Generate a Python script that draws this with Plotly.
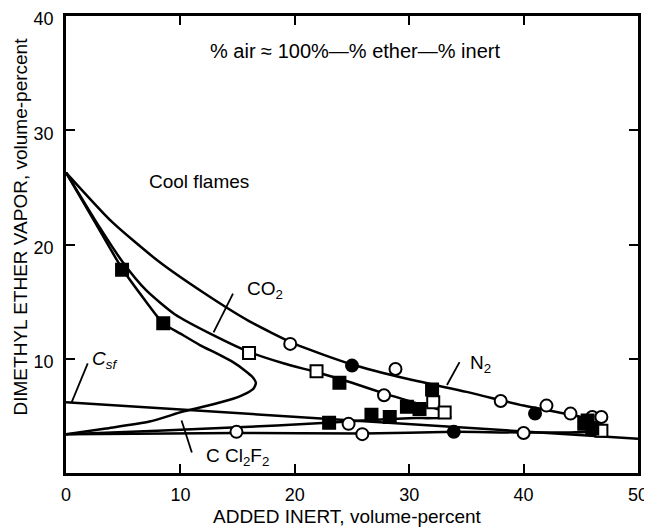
import plotly.graph_objects as go

# ---------------- data ----------------
# N2 flammability envelope (upper branch then lower branch)
n2_x = [0, 4, 8, 12, 16, 20, 25, 30, 35, 40, 45, 46.8, 46.2, 40, 34, 26, 15, 0]
n2_y = [26.3, 22.0, 18.6, 15.8, 13.3, 11.3, 9.5, 8.2, 7.1, 5.9, 4.9, 4.3, 3.7, 3.55, 3.6, 3.45, 3.5, 3.4]

# CO2 flammability envelope
co2_x = [0, 2.5, 5, 7, 9.5, 13, 16, 19, 22, 25, 28, 31, 33.3, 33.6, 30, 26, 22, 15, 8, 0]
co2_y = [26.3, 22.2, 18.4, 16.0, 13.9, 12.0, 10.6, 9.6, 8.8, 7.9, 6.9, 6.0, 5.3, 4.9, 4.8, 4.6, 4.35, 4.0, 3.7, 3.4]

# CCl2F2 flammability envelope
ccl_x = [0, 2.5, 4.9, 7, 8.5, 10, 11.7, 13.3, 14.6, 15.6, 16.3, 16.6, 16.4, 15.8, 14.6, 13.2, 10.3, 7.3, 3.5, 0]
ccl_y = [26.3, 22.0, 17.9, 15.0, 13.1, 12.2, 11.2, 10.4, 9.7, 9.0, 8.4, 7.9, 7.4, 7.0, 6.5, 6.1, 5.4, 4.5, 3.9, 3.4]

# stoichiometric line Csf
csf_x = [0, 50]
csf_y = [6.2, 3.0]

# experimental points
open_circle_x = [19.6, 28.8, 38.0, 42.0, 44.1, 46.0, 46.8, 27.8, 14.9, 25.9, 40.0, 24.7]
open_circle_y = [11.3, 9.1, 6.3, 5.9, 5.2, 4.9, 4.9, 6.8, 3.6, 3.4, 3.5, 4.3]
filled_circle_x = [25.0, 41.0, 33.9]
filled_circle_y = [9.4, 5.2, 3.6]
open_square_x = [16.0, 21.9, 32.1, 33.1, 46.8]
open_square_y = [10.5, 8.9, 6.2, 5.3, 3.7]
filled_square_x = [4.9, 8.5, 23.9, 32.0, 29.8, 30.9, 26.7, 28.3, 23.0, 45.3, 46.0, 45.6]
filled_square_y = [17.8, 13.1, 7.9, 7.3, 5.8, 5.6, 5.1, 4.9, 4.4, 4.3, 3.9, 4.6]

x_ticks = [0, 10, 20, 30, 40, 50]
y_ticks = [10, 20, 30, 40]

# labels: (text, x, y, size) and leader lines (x0, y0, x1, y1)
labels = [
    ("CO<sub>2</sub>", 17.4, 16.0, 19),
    ("N<sub>2</sub>", 36.2, 9.5, 19),
    ("<i>C<sub>sf</sub></i>", 3.4, 9.9, 19),
    ("C Cl<sub>2</sub>F<sub>2</sub>", 15.0, 1.4, 19),
    ("Cool flames", 11.6, 25.5, 19),
    ("% air ≈ 100%—% ether—% inert", 25.3, 36.9, 20),
]
leaders = [
    (14.6, 15.7, 12.9, 12.3),
    (34.4, 9.7, 33.3, 7.7),
    (1.9, 9.6, 0.5, 6.2),
    (11.0, 1.8, 10.1, 4.6),
]

FONT = "Liberation Sans"
INK = "black"

fig = go.Figure()
for xs, ys in [(n2_x, n2_y), (co2_x, co2_y), (ccl_x, ccl_y)]:
    fig.add_trace(go.Scatter(x=xs, y=ys, mode="lines",
                             line=dict(color=INK, width=2.5, shape="spline", smoothing=0.6),
                             hoverinfo="skip", showlegend=False))
fig.add_trace(go.Scatter(x=csf_x, y=csf_y, mode="lines",
                         line=dict(color=INK, width=2.5), showlegend=False))

mk = dict(size=12, line=dict(color=INK, width=2))
fig.add_trace(go.Scatter(x=open_circle_x, y=open_circle_y, mode="markers",
                         marker=dict(symbol="circle", color="white", **mk), showlegend=False))
fig.add_trace(go.Scatter(x=filled_circle_x, y=filled_circle_y, mode="markers",
                         marker=dict(symbol="circle", color=INK, **mk), showlegend=False))
fig.add_trace(go.Scatter(x=open_square_x, y=open_square_y, mode="markers",
                         marker=dict(symbol="square", color="white", **mk), showlegend=False))
fig.add_trace(go.Scatter(x=filled_square_x, y=filled_square_y, mode="markers",
                         marker=dict(symbol="square", color=INK, **mk), showlegend=False))

for text, lx, ly, fs in labels:
    fig.add_annotation(x=lx, y=ly, xref="x", yref="y", text=text, showarrow=False,
                       xanchor="center", yanchor="middle",
                       font=dict(family=FONT, size=fs, color=INK))
for x0, y0, x1, y1 in leaders:
    fig.add_shape(type="line", x0=x0, y0=y0, x1=x1, y1=y1, xref="x", yref="y",
                  line=dict(color=INK, width=1.8))

# axis titles
fig.add_annotation(x=0.493, y=-0.096, xref="paper", yref="paper",
                   xanchor="center", yanchor="middle",
                   text="ADDED INERT, volume-percent", showarrow=False,
                   font=dict(family=FONT, size=19, color=INK))
fig.add_annotation(x=-0.08, y=0.54, xref="paper", yref="paper", textangle=-90,
                   xanchor="center", yanchor="middle",
                   text="DIMETHYL ETHER VAPOR, volume-percent", showarrow=False,
                   font=dict(family=FONT, size=19, color=INK))

axis_common = dict(showgrid=False, zeroline=False, showline=True, linecolor=INK, linewidth=2.5,
                   mirror="ticks", ticks="inside", ticklen=9, tickwidth=2, tickcolor=INK,
                   automargin=False, ticklabeloverflow="allow",
                   tickfont=dict(family=FONT, size=18, color=INK))
fig.update_xaxes(range=[0, 50], tickvals=x_ticks, ticktext=[str(v) for v in x_ticks],
                 ticklabelstandoff=4, **axis_common)
fig.update_yaxes(range=[0, 40], tickvals=y_ticks, ticktext=[str(v) for v in y_ticks],
                 ticklabelstandoff=6, ticklabelshift=3, **axis_common)

# the page body adds an 8px margin, so the figure is sized/offset to compensate
fig.update_layout(width=644, height=521, margin=dict(l=58, r=14, t=8, b=56),
                  paper_bgcolor="white", plot_bgcolor="white")

fig.write_html("out.html")
